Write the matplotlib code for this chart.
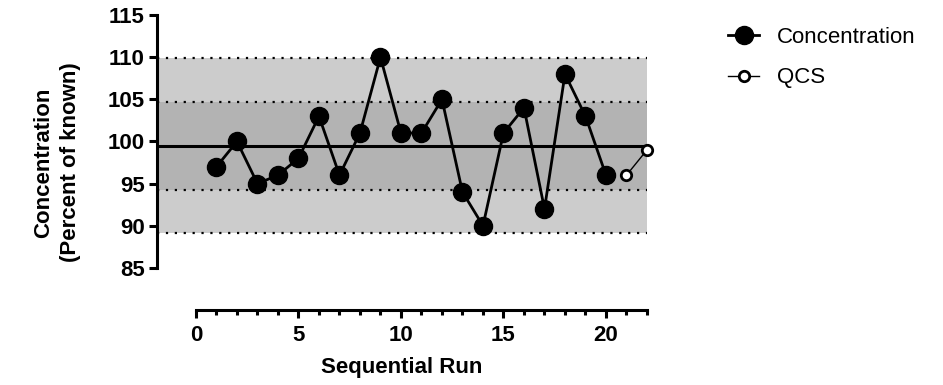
import matplotlib.pyplot as plt

plt.rcParams['font.family'] = ['Liberation Sans', 'DejaVu Sans']

runs = list(range(1, 21))
concentration = [97, 100, 95, 96, 98, 103, 96, 101, 110, 101,
                 101, 105, 94, 90, 101, 104, 92, 108, 103, 96]
qcs_runs = [21, 22]
qcs = [96, 99]

mean = 99.5
inner_lim = [94.3, 104.7]
outer_lim = [89.1, 109.9]

fig = plt.figure(figsize=(9.43, 3.85), dpi=100)
ax = fig.add_axes([0.1665, 0.1948, 0.5196, 0.766])

# shaded bands
ax.axhspan(outer_lim[0], outer_lim[1], color='#cccccc', zorder=0, lw=0)
ax.axhspan(inner_lim[0], inner_lim[1], color='#b3b3b3', zorder=0, lw=0)
for y in inner_lim + outer_lim:
    ax.axhline(y, color='black', ls=(0, (1, 3)), lw=1.6, zorder=1)
ax.axhline(mean, color='black', lw=2.2, zorder=2)

ax.plot(runs, concentration, color='black', lw=2, marker='o', ms=13,
        zorder=3, label='Concentration')
ax.plot(qcs_runs, qcs, color='black', lw=1, marker='o', ms=7.5,
        mfc='white', mew=2, zorder=3, label='QCS', clip_on=False)

ax.set_xlim(-1.9, 22)
ax.set_ylim(80, 115)

for s in ['top', 'right']:
    ax.spines[s].set_visible(False)
ax.spines['left'].set_bounds(85, 115)
ax.spines['bottom'].set_bounds(0, 22)
ax.spines['left'].set_linewidth(2.2)
ax.spines['bottom'].set_linewidth(2.2)

ax.set_yticks(range(85, 116, 5))
ax.set_xticks(range(0, 21, 5))
ax.set_xticks(range(0, 23), minor=True)
ax.tick_params(axis='both', which='major', width=2.2, length=6,
               labelsize=16, pad=3)
ax.tick_params(axis='x', which='major', pad=5)
ax.tick_params(axis='x', which='minor', width=2.2, length=3.5)
for lab in ax.get_xticklabels() + ax.get_yticklabels():
    lab.set_fontweight('bold')

ax.set_xlabel('Sequential Run', fontsize=16, fontweight='bold', labelpad=8)
ax.set_ylabel('Concentration\n(Percent of known)', fontsize=16,
              fontweight='bold', labelpad=19, linespacing=1.35)

ax.legend(loc='upper left', bbox_to_anchor=(0.772, 0.93),
          bbox_transform=fig.transFigure, frameon=False, fontsize=16,
          handlelength=1.4, handletextpad=0.8, labelspacing=0.87,
          borderpad=0, borderaxespad=0)

fig.savefig('out.png', dpi=100)
